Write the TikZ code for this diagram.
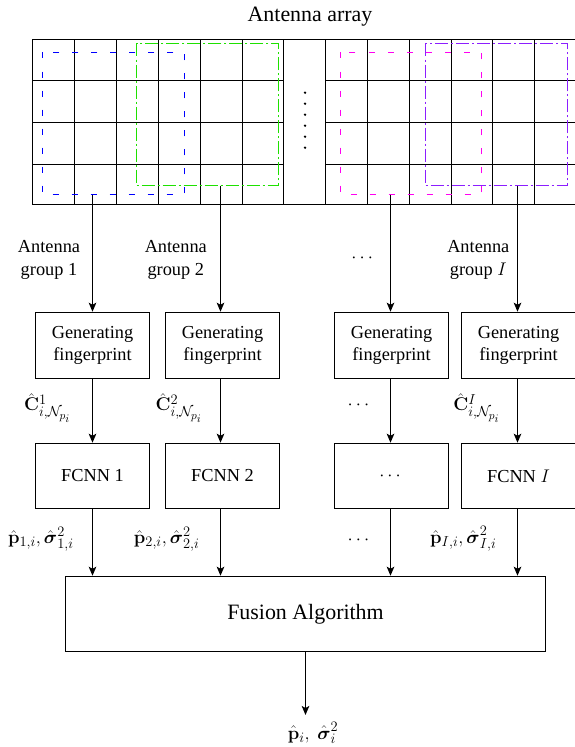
\documentclass[tikz,border=0pt]{standalone}
\usepackage{fix-cm}
\usepackage{amsmath}
\usepackage[no-math]{fontspec}
\setmainfont{Liberation Serif}
\usetikzlibrary{arrows.meta,calc}
\DeclareMathSizes{18.5}{18.5}{14.5}{11.5}

\definecolor{grpblue}{RGB}{0,0,255}
\definecolor{grpgreen}{RGB}{30,225,0}
\definecolor{grpmagenta}{RGB}{255,0,240}
\definecolor{grppurple}{RGB}{140,30,255}

\begin{document}
\begin{tikzpicture}[x=1bp,y=-1bp,line width=1.5bp,
  box/.style={draw,minimum width=114bp,minimum height=66bp,inner sep=0pt,
    align=center,font=\fontsize{18.4}{22}\selectfont},
  flow/.style={-{Stealth[length=9bp,width=7.5bp,inset=2bp]}},
  lbl/.style={align=center,inner sep=0pt,font=\fontsize{18.4}{22.3}\selectfont},
  mlbl/.style={inner sep=0pt,font=\fontsize{18.5}{22}\selectfont},
  gridline/.style={line width=1.5bp},
  window/.style={line width=1.3bp},
  windash/.style={window,dash pattern=on 6bp off 13bp},
  % dash-dot outline built from two simple patterns: long dashes, then dots
  windashpart/.style={window,dash pattern=on 13bp off 8bp},
  windotpart/.style={window,dash pattern=on 2bp off 19bp,dash phase=5bp}]

\useasboundingbox (0,0) rectangle (575,747);

% title
\node[anchor=base,inner sep=0pt,font=\fontsize{22}{26}\selectfont] (title) at (310,21.7) {Antenna array};

% antenna grid
\draw[gridline] (32.5,39.5) rectangle (576,204.5);
\foreach \x in {74.5,116.5,158.5,200.5,242.5,283.5,325.5,367.5,409.5,451.5,492.5,534.5}
  \draw[gridline] (\x,39.5) -- (\x,204.5);
\foreach \y in {80.5,122.5,164.5}{
  \draw[gridline] (32.5,\y) -- (283.5,\y);
  \draw[gridline] (325.5,\y) -- (576,\y);
}
\foreach \y in {92.7,103.7,114.7,125.7,136.7,147.7}
  \fill (305,\y) circle (1.3bp);

% antenna groups, with the points where their links leave
\draw[windash,grpblue] (42.5,52.5) rectangle (184.5,194.5);
\draw[windashpart,grpgreen] (136.5,43.5) rectangle (278.5,185.5);
\draw[windotpart,grpgreen] (136.5,43.5) rectangle (278.5,185.5);
\draw[windash,grpmagenta] (340.5,52.5) rectangle (481.5,194.5);
\draw[windashpart,grppurple] (425.5,43.5) rectangle (567.5,185.5);
\draw[windotpart,grppurple] (425.5,43.5) rectangle (567.5,185.5);
\coordinate (w1) at (92.5,194.5);
\coordinate (w2) at (220.5,185.5);
\coordinate (w3) at (390.5,194.5);
\coordinate (w4) at (517.5,185.5);

% fingerprint generation
\node[box] (gf1) at (92.5,345.5) {Generating\\fingerprint};
\node[box] (gf2) at (222.5,345.5) {Generating\\fingerprint};
\node[box] (gf3) at (391.5,345.5) {Generating\\fingerprint};
\node[box] (gf4) at (518.5,345.5) {Generating\\fingerprint};

% networks
\node[box,minimum height=65bp] (nn1) at (92.5,476) {FCNN 1};
\node[box,minimum height=65bp] (nn2) at (222.5,476) {FCNN 2};
\node[box,minimum height=65bp] (nn3) at (391.5,476) {$\cdots$};
\node[box,minimum height=65bp] (nn4) at (518.5,476) {FCNN $I$};

% fusion
\node[draw,minimum width=480bp,minimum height=75bp,inner sep=0pt,
  font=\fontsize{22}{26}\selectfont] (fus) at (305.5,614) {Fusion Algorithm};
\coordinate (out) at (305.5,715);

% connectors
\foreach \i in {1,...,4}{
  \draw[flow] (w\i) -- (gf\i.north -| w\i);
  \draw[flow] (gf\i.south -| w\i) -- (nn\i.north -| w\i);
  \draw[flow] (nn\i.south -| w\i) -- (fus.north -| w\i);
}
\draw[flow] (fus.south -| out) -- (out);

% labels of the antenna groups
\node[lbl] (la1) at (49,260) {Antenna\\group 1};
\node[lbl] (la2) at (175.8,260) {Antenna\\group 2};
\node[mlbl] (la3) at (363.7,258) {$\cdots$};
\node[lbl] (la4) at (478.3,260) {Antenna\\group $I$};

% fingerprint labels
\node[mlbl] (lc1) at (47.5,408) {$\hat{\mathbf{C}}^{1}_{i,\mathcal{N}_{p_i}}$};
\node[mlbl] (lc2) at (179,408) {$\hat{\mathbf{C}}^{2}_{i,\mathcal{N}_{p_i}}$};
\node[mlbl] (lc3) at (360,405) {$\cdots$};
\node[mlbl] (lc4) at (476.7,408) {$\hat{\mathbf{C}}^{I}_{i,\mathcal{N}_{p_i}}$};

% estimate labels
\node[mlbl] (lp1) at (40.8,539) {$\hat{\mathbf{p}}_{1,i},\hat{\boldsymbol{\sigma}}^2_{1,i}$};
\node[mlbl] (lp2) at (166.7,539) {$\hat{\mathbf{p}}_{2,i},\hat{\boldsymbol{\sigma}}^2_{2,i}$};
\node[mlbl] (lp3) at (360,540) {$\cdots$};
\node[mlbl] (lp4) at (463.3,539) {$\hat{\mathbf{p}}_{I,i},\hat{\boldsymbol{\sigma}}^2_{I,i}$};

% fused estimate
\node[mlbl] (lout) at (313,733) {$\hat{\mathbf{p}}_{i},~\hat{\boldsymbol{\sigma}}^2_{i}$};
\end{tikzpicture}
\end{document}
